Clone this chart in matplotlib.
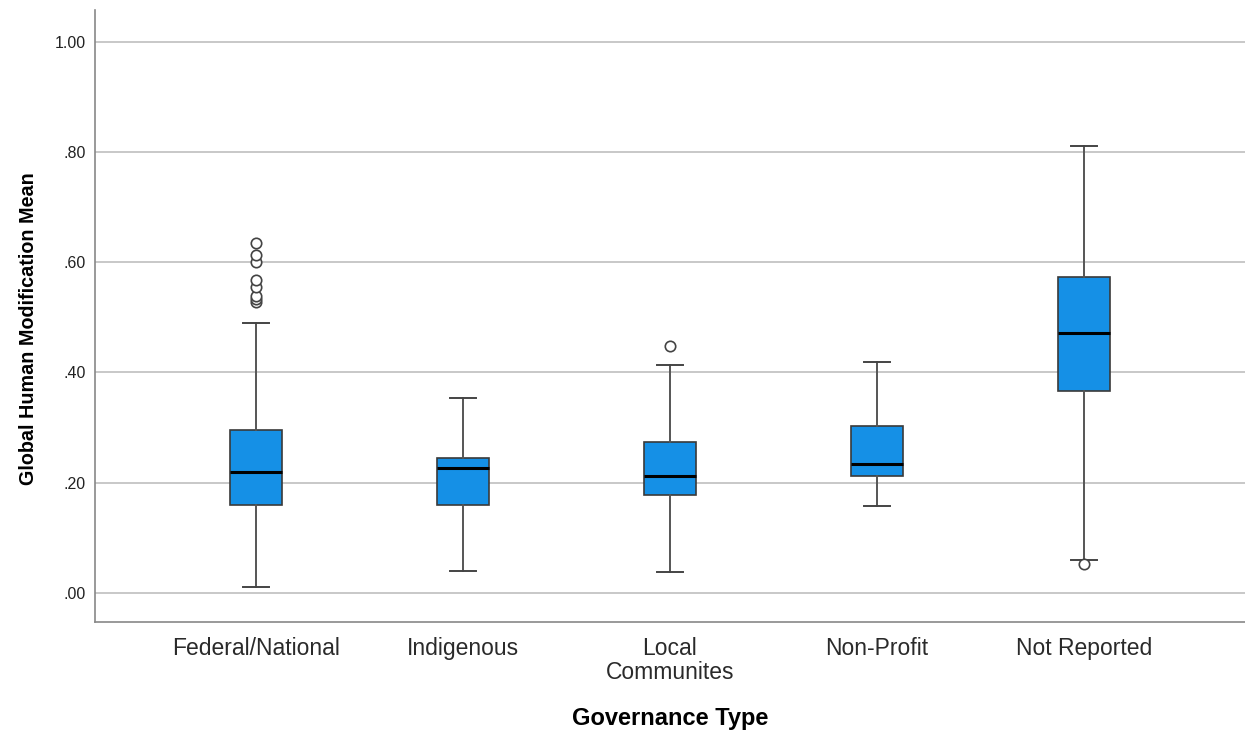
import matplotlib
matplotlib.use("Agg")
import matplotlib.pyplot as plt
from matplotlib import font_manager

categories = ["Federal/National", "Indigenous", "Local\nCommunites", "Non-Profit", "Not Reported"]
whisker_low = [0.011, 0.040, 0.038, 0.158, 0.060]
q1 = [0.160, 0.159, 0.177, 0.212, 0.367]
median = [0.220, 0.226, 0.211, 0.233, 0.472]
q3 = [0.295, 0.244, 0.274, 0.302, 0.573]
whisker_high = [0.490, 0.354, 0.414, 0.419, 0.811]
outliers = [
    [0.528, 0.534, 0.539, 0.555, 0.568, 0.601, 0.613, 0.635],
    [],
    [0.448],
    [],
    [0.052],
]
y_ticks = [0.0, 0.2, 0.4, 0.6, 0.8, 1.0]
y_tick_labels = [".00", ".20", ".40", ".60", ".80", "1.00"]

plt.rcParams["font.family"] = ["Liberation Sans", "DejaVu Sans"]

installed = {f.name for f in font_manager.fontManager.ttflist}
if "Liberation Sans Narrow" in installed:
    ylabel_font = dict(family=["Liberation Sans Narrow", "Liberation Sans"], size=17.5)
else:
    ylabel_font = dict(family=["Liberation Sans", "DejaVu Sans"], size=14.2)

fig = plt.figure(figsize=(12.45, 7.35), dpi=100)
ax = fig.add_axes([0.0763, 0.154, 0.9237, 0.832])

stats = []
for i, name in enumerate(categories):
    stats.append(dict(label=name, whislo=whisker_low[i], q1=q1[i], med=median[i],
                      q3=q3[i], whishi=whisker_high[i], fliers=outliers[i]))

positions = list(range(len(categories)))
ax.bxp(stats, positions=positions, widths=0.25, patch_artist=True,
       showfliers=True, capwidths=0.125,
       boxprops=dict(facecolor="#1590e6", edgecolor="#3a3a3a", linewidth=1.2),
       medianprops=dict(color="black", linewidth=2.2),
       whiskerprops=dict(color="#555555", linewidth=1.4),
       capprops=dict(color="#444444", linewidth=1.4),
       flierprops=dict(marker="o", markersize=7.5, markerfacecolor="white",
                       markeredgecolor="#444444", markeredgewidth=1.2),
       zorder=3)

ax.set_xlim(-0.78, 4.78)
ax.set_ylim(-0.053, 1.058)
ax.set_yticks(y_ticks)
ax.set_yticklabels(y_tick_labels, fontsize=11.5, color="#222222")
ax.set_xticks(positions)
ax.set_xticklabels(categories, fontsize=16.5, color="#2a2a2a", linespacing=1.05)
ax.tick_params(axis="both", length=0)
ax.tick_params(axis="y", pad=6.5)
ax.tick_params(axis="x", pad=11)

ax.yaxis.grid(True, color="#c4c4c4", linewidth=1.3)
ax.set_axisbelow(True)

for side in ("top", "right"):
    ax.spines[side].set_visible(False)
for side in ("left", "bottom"):
    ax.spines[side].set_color("#888888")
    ax.spines[side].set_linewidth(1.2)

ax.set_ylabel("Global Human Modification Mean", fontweight="bold", **ylabel_font)
ax.yaxis.set_label_coords(-0.0496, 0.480)
ax.set_xlabel("Governance Type", fontsize=17, fontweight="bold")
ax.xaxis.set_label_coords(0.5, -0.140)

fig.savefig("out.png", dpi=100, facecolor="white")
